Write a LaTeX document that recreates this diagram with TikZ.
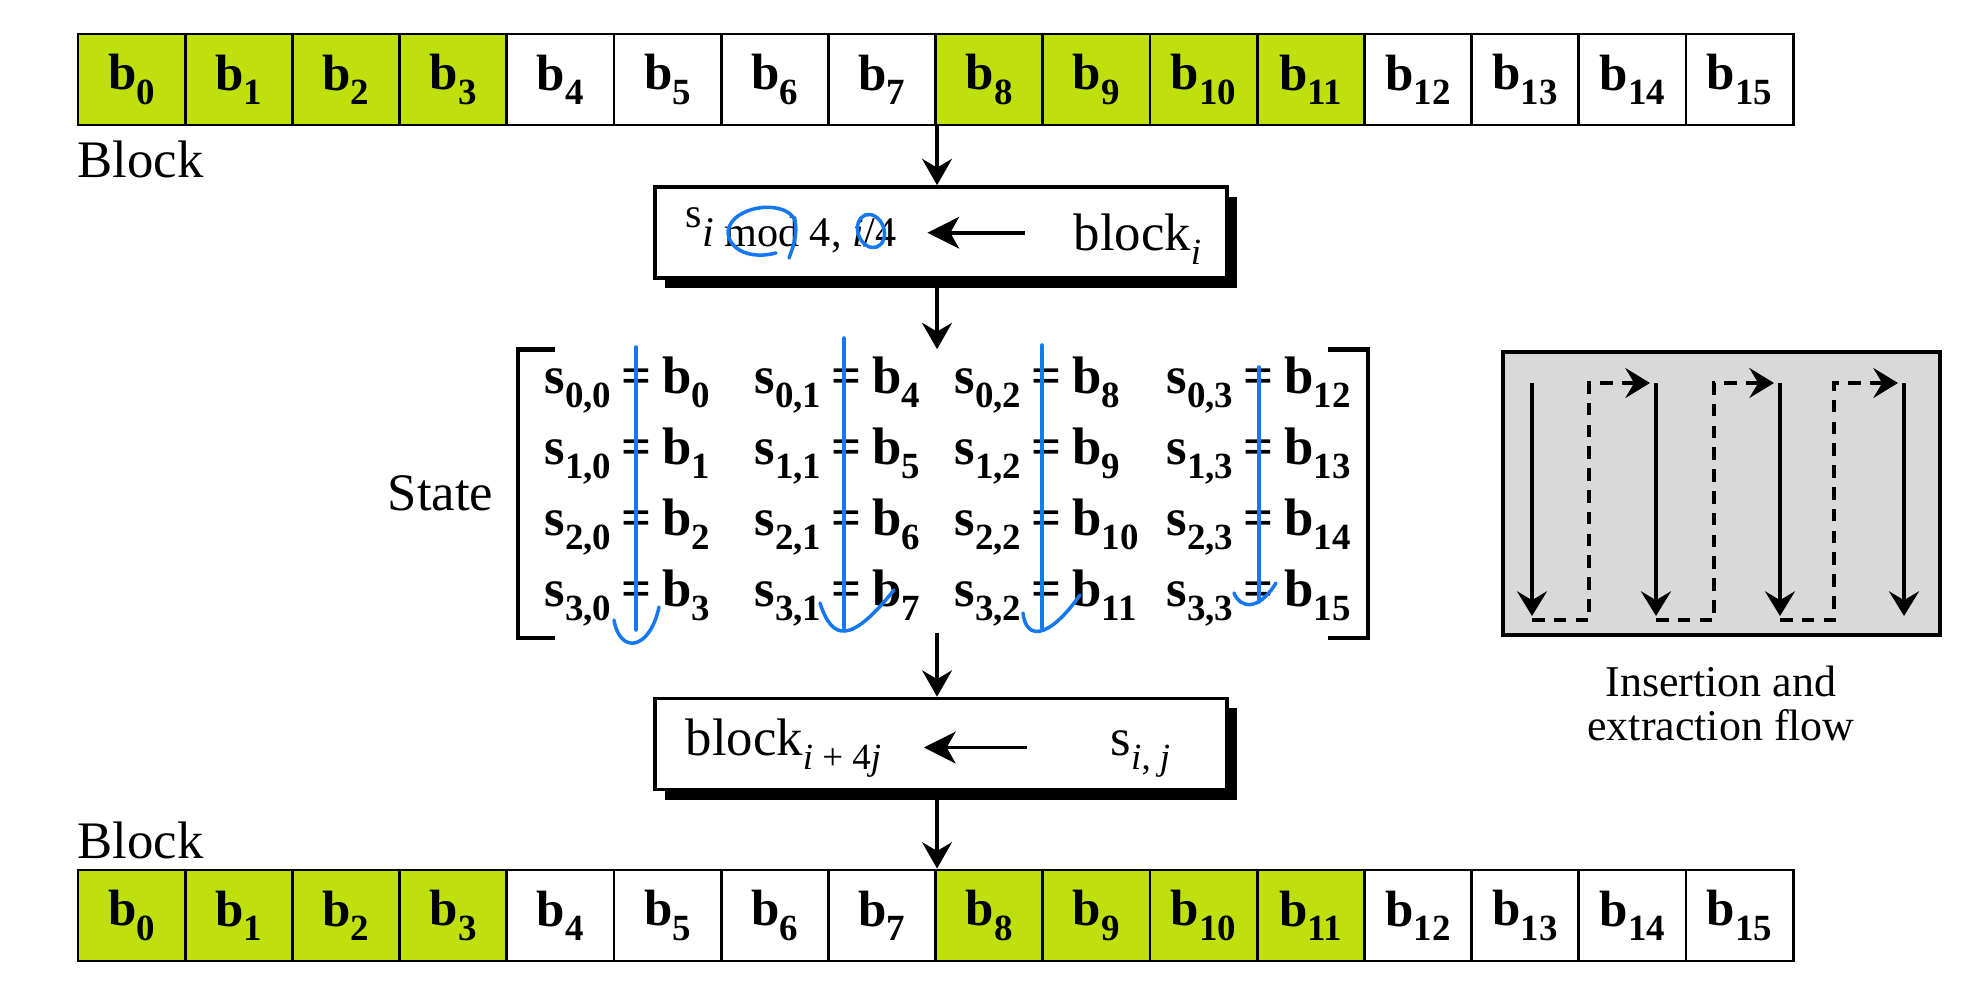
\documentclass[tikz,border=0pt]{standalone}
\usepackage{fontspec}
\setmainfont{Liberation Serif}
\usetikzlibrary{arrows.meta,positioning,calc,shadows}
\definecolor{cellgreen}{RGB}{192,224,14}
\definecolor{panelgray}{RGB}{217,217,217}
\definecolor{penblue}{RGB}{22,120,240}
\newcommand\sbx[1]{\raisebox{-4pt}{\fontsize{10.5}{12}\selectfont #1}}

\begin{document}
\begin{tikzpicture}[x=0.01cm,y=-0.01cm,>=Stealth,
 cell/.style={draw,line width=0.8pt,minimum width=1.072cm,minimum height=0.91cm,inner sep=0pt,font=\fontsize{14.5}{17}\selectfont\bfseries},
 stepbox/.style={draw,fill=white,line width=1pt,minimum width=5.72cm,minimum height=0.91cm,
   drop shadow={shadow xshift=0.1cm,shadow yshift=-0.1cm,fill=black,opacity=1}},
 txt/.style={inner sep=0pt,font=\fontsize{15}{18}\selectfont},
 entry/.style={inner sep=0pt,font=\fontsize{15}{18}\selectfont\bfseries},
 down/.style={-{Stealth[length=7.5pt,width=8.5pt,inset=2.5pt]},line width=1pt},
 inflow/.style={-{Stealth[length=9pt,width=9pt,inset=2.5pt]},line width=1.1pt},
 brk/.style={line width=1.3pt},
 panel/.style={draw,line width=1pt,fill=panelgray,minimum width=4.37cm,minimum height=2.83cm},
 pass/.style={-{Stealth[length=7pt,width=8.5pt,inset=2.5pt]},line width=1.3pt},
 back/.style={pass,dash pattern=on 3.6pt off 2.6pt},
 scribble/.style={draw=penblue,line width=1pt,line cap=round,line join=round}]
\useasboundingbox (0,0) rectangle (1984,1000);

% the two rows of bytes
\foreach \i in {0,...,15}{
  \pgfmathtruncatemacro\g{mod(\i,8)<4}
  \ifnum\g=1 \def\cfill{cellgreen}\else\def\cfill{white}\fi
  \node[cell,fill=\cfill] (t\i) at (78+107.2*\i+53.6,79.5) {b\sbx{\i}};
  \node[cell,fill=\cfill] (u\i) at (78+107.2*\i+53.6,915.5) {b\sbx{\i}};
}
\node[txt,anchor=base west] (blk) at (77,177) {Block};
\node[txt,anchor=base west] (blk2) at (77,858) {Block};

% insertion step
\node[stepbox] (ld) at (941,232.5) {};
\node[inner sep=0pt,anchor=base west,font=\fontsize{12}{14}\selectfont] (ldl) at (685,227) {s\raisebox{-5.5pt}{\textit{i} mod 4, \textit{i}/4}};
\node[txt,anchor=base west] (ldr) at (1073,250) {block\sbx{\textit{i}}};
\draw[inflow,shorten <=0.48cm,shorten >=0.3cm] ([yshift=0.06cm]ldr.west) -- ([yshift=0.06cm]ldr.west -| ldl.east);

% state matrix
\node[minimum width=8.48cm,minimum height=2.87cm,inner sep=0pt] (mat) at (943,493.5) {};
\draw[brk] ([xshift=0.37cm]mat.north west) -- (mat.north west) -- (mat.south west) -- ++(37,0);
\draw[brk] ([xshift=-0.4cm]mat.north east) -- (mat.north east) -- (mat.south east) -- ++(-40,0);
\node[txt,left=0.24cm of mat] (st) {State};
\foreach \c/\x in {0/637,1/847,2/1047,3/1259}
 \foreach \r in {0,...,3}{
   \pgfmathtruncatemacro\n{\r+4*\c}
   \node[entry,anchor=base] (s\r\c) at (\x,393+71.3*\r)
     {\makebox[0pt][r]{s\sbx{\r,\c}\hspace{3pt}}=\makebox[0pt][l]{\hspace{3pt}b\sbx{\n}}};
 }

% extraction step
\node[stepbox] (ex) at (941,744) {};
\node[txt,anchor=base west] (exl) at (685,755) {block\sbx{\textit{i} + 4\textit{j}}};
\node[txt,anchor=base west] (exr) at (1110,755) {s\sbx{\textit{i}, \textit{j}}};
\draw[inflow,shorten <=0.83cm,shorten >=0.42cm] ([yshift=0.06cm]exr.west) -- ([yshift=0.06cm]exr.west -| exl.east);

% main flow
\draw[down] (t7.south east) -- (t7.south east |- ld.north);
\draw[down] (t7.south east |- ld.south) -- (t7.south east |- mat.north);
\draw[down] ([yshift=0.05cm]t7.south east |- mat.south) -- (t7.south east |- ex.north);
\draw[down] (t7.south east |- ex.south) -- (u7.north east);

% insertion and extraction order
\node[panel] (fl) at (1721.5,493.5) {};
\foreach \x in {1532,1656,1780,1904}
  \draw[pass] (\x,383) -- (\x,616);
\foreach \a/\b/\c in {1532/1589/1656,1656/1714/1780,1780/1834/1904}
  \draw[back] (\a,620) -- (\b,620) -- (\b,383) -- (\c-6,383);
\node[align=center,font=\fontsize{12.5}{12.5}\selectfont] (cap) at (1721,703) {Insertion and\\extraction flow};

% pen marks
\draw[scribble] (636,347) -- (636,630);
\draw[scribble] (614,620) .. controls (620,655) and (650,650) .. (659,607);
\draw[scribble] (844,338) -- (844,628);
\draw[scribble] (820,603) .. controls (832,640) and (850,645) .. (894,590);
\draw[scribble] (1042,345) -- (1042,628);
\draw[scribble] (1023,613) .. controls (1026,640) and (1048,640) .. (1080,595);
\draw[scribble] (1259,367) -- (1259,602);
\draw[scribble] (1234,593) .. controls (1240,608) and (1258,612) .. (1276,583);
\draw[scribble] (776,253) .. controls (740,262) and (722,240) .. (730,225) .. controls (740,205) and (785,200) .. (795,220) .. controls (798,235) and (792,250) .. (789,258);
\draw[scribble,rotate around={20:(871,231)}] (871,231) ellipse [x radius=0.13cm,y radius=0.17cm];
\end{tikzpicture}
\end{document}
